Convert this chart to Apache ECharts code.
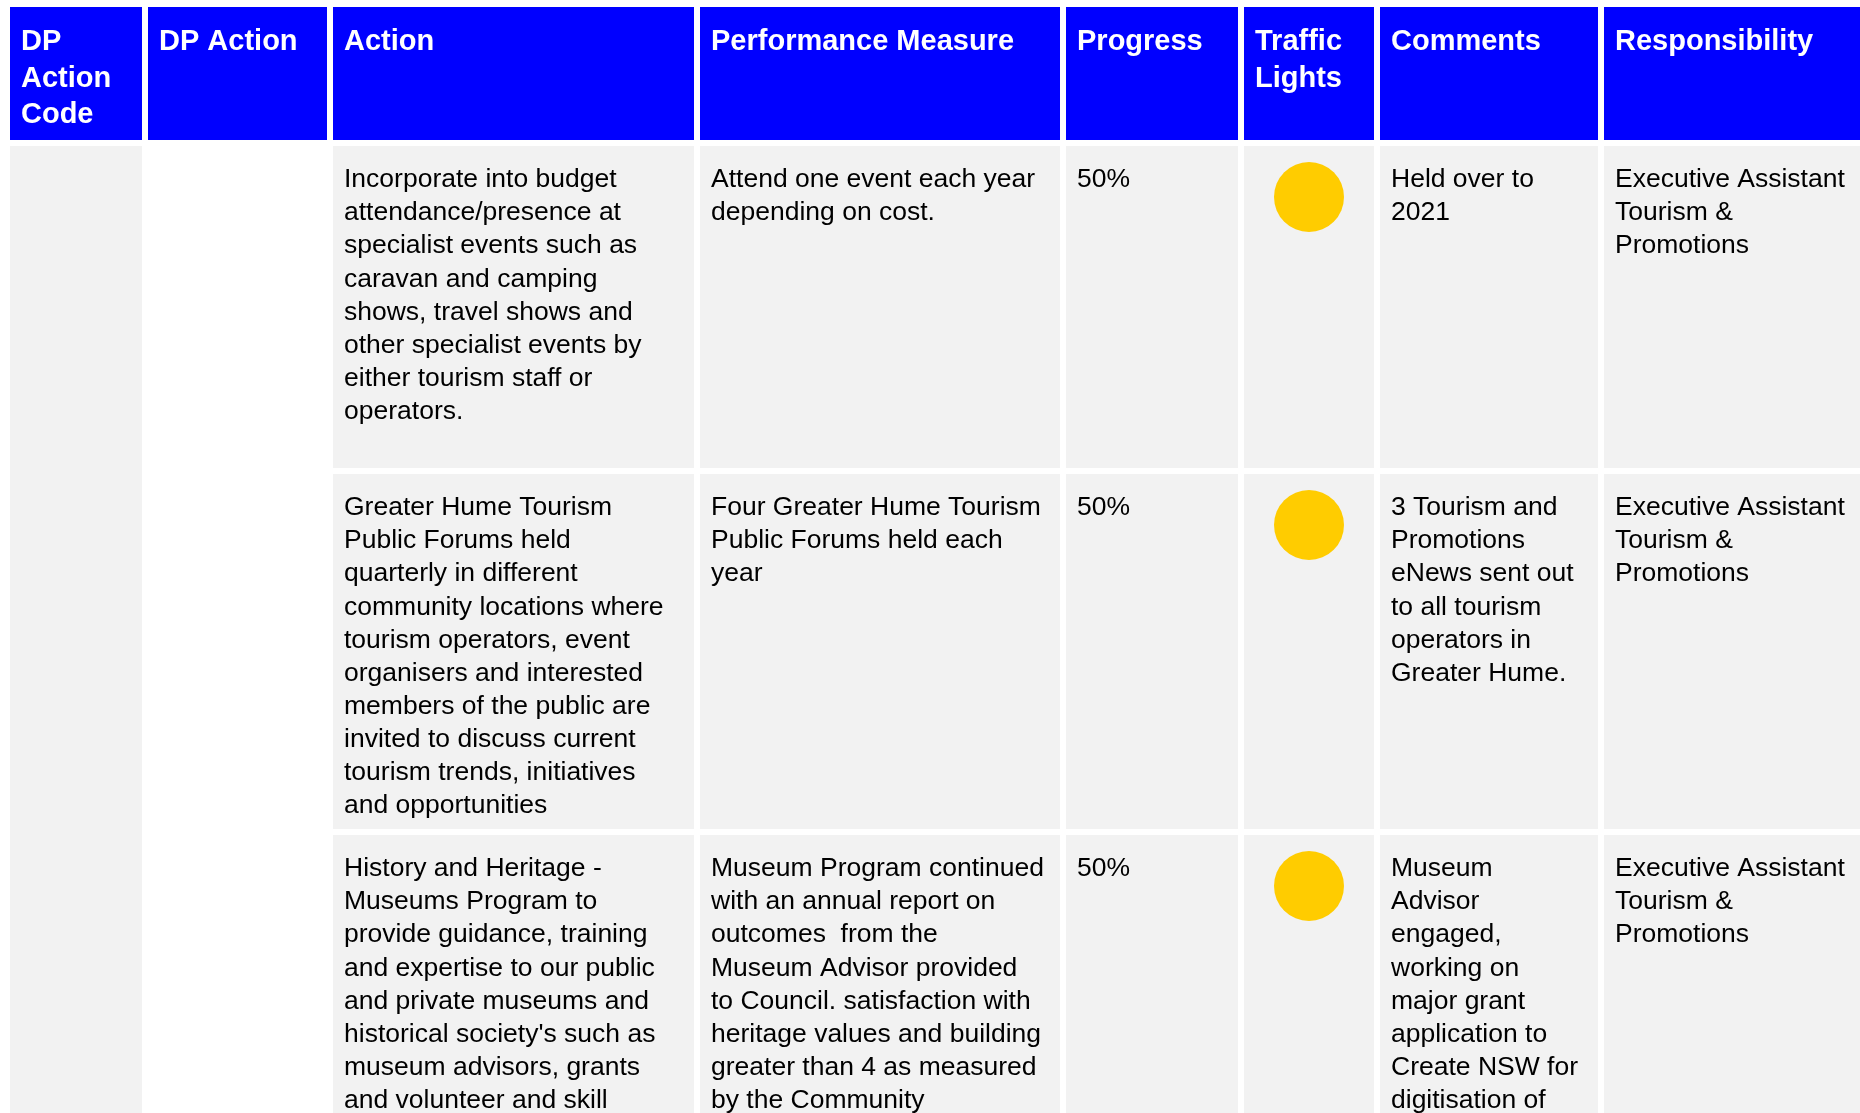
<!DOCTYPE html>
<html><head><meta charset="utf-8">
<script src="https://cdn.jsdelivr.net/npm/echarts@6/dist/echarts.min.js"></script>
<style>html,body{margin:0;padding:0;background:#fff}#c{width:1860px;height:1113px}</style>
</head><body><div id="c"></div>
<script>
// ---------- data ----------
const headers = ['DP\nAction\nCode', 'DP Action', 'Action', 'Performance Measure', 'Progress', 'Traffic\nLights', 'Comments', 'Responsibility'];
const actions = [
  'Incorporate into budget\nattendance/presence at\nspecialist events such as\ncaravan and camping\nshows, travel shows and\nother specialist events by\neither tourism staff or\noperators.',
  'Greater Hume Tourism\nPublic Forums held\nquarterly in different\ncommunity locations where\ntourism operators, event\norganisers and interested\nmembers of the public are\ninvited to discuss current\ntourism trends, initiatives\nand opportunities',
  "History and Heritage -\nMuseums Program to\nprovide guidance, training\nand expertise to our public\nand private museums and\nhistorical society's such as\nmuseum advisors, grants\nand volunteer and skill"
];
const measures = [
  'Attend one event each year\ndepending on cost.',
  'Four Greater Hume Tourism\nPublic Forums held each\nyear',
  'Museum Program continued\nwith an annual report on\noutcomes  from the\nMuseum Advisor provided\nto Council. satisfaction with\nheritage values and building\ngreater than 4 as measured\nby the Community'
];
const progress = ['50%', '50%', '50%'];
const lights = ['amber', 'amber', 'amber'];
const comments = [
  'Held over to\n2021',
  '3 Tourism and\nPromotions\neNews sent out\nto all tourism\noperators in\nGreater Hume.',
  'Museum\nAdvisor\nengaged,\nworking on\nmajor grant\napplication to\nCreate NSW for\ndigitisation of'
];
const responsibility = [
  'Executive Assistant\nTourism &\nPromotions',
  'Executive Assistant\nTourism &\nPromotions',
  'Executive Assistant\nTourism &\nPromotions'
];

// ---------- layout / style ----------
const COL = [[10,142],[148,327],[333,694],[700,1060],[1066,1238],[1244,1374],[1380,1598],[1604,1870]];
const HEAD = [7,140];
const ROWS = [[146,468],[474,829],[835,1180]];
const BLUE = '#0000ff', GRAY = '#f2f2f2', AMBER = '#ffcc00';
const LIGHT_COLORS = { amber: AMBER, green: '#00b050', red: '#ff0000' };
const FONT = '"Liberation Sans", Arial, Helvetica, sans-serif';
const PADX = 11;

const bodyCols = [null, null, actions, measures, progress, lights, comments, responsibility];

function rectOf(api, x0, y0, x1, y1) {
  const p0 = api.coord([x0, y0]), p1 = api.coord([x1, y1]);
  return { x: p0[0], y: p0[1], width: p1[0] - p0[0], height: p1[1] - p0[1] };
}

const headerData = headers.map((h, i) => [i, -1]);
const bodyData = [];
for (let r = 0; r < actions.length; r++) {
  for (let c = 2; c < bodyCols.length; c++) bodyData.push([c, r]);
}

const chart = echarts.init(document.getElementById('c'), null, { renderer: 'canvas' });
chart.setOption({
  animation: false,
  backgroundColor: '#ffffff',
  grid: { left: 0, right: 0, top: 0, bottom: 0 },
  xAxis: { type: 'value', min: 0, max: 1860, show: false },
  yAxis: { type: 'value', min: 0, max: 1113, inverse: true, show: false },
  series: [
    {
      type: 'custom', name: 'header', data: headerData,
      renderItem: function (params, api) {
        const c = api.value(0);
        const r = rectOf(api, COL[c][0], HEAD[0], COL[c][1], HEAD[1]);
        const t = api.coord([COL[c][0] + PADX, HEAD[0] + 17.2]);
        return { type: 'group', children: [
          { type: 'rect', shape: r, style: { fill: BLUE } },
          { type: 'text', x: t[0], y: t[1], style: {
            text: headers[c], fill: '#ffffff', fontFamily: FONT, fontWeight: 'bold',
            fontSize: 29, lineHeight: 36.5, align: 'left', verticalAlign: 'top' } }
        ] };
      }
    },
    {
      type: 'custom', name: 'codeColumn', data: [[0, 0]],
      renderItem: function (params, api) {
        const r = rectOf(api, COL[0][0], ROWS[0][0], COL[0][1], ROWS[ROWS.length - 1][1]);
        return { type: 'rect', shape: r, style: { fill: GRAY } };
      }
    },
    {
      type: 'custom', name: 'body', data: bodyData,
      renderItem: function (params, api) {
        const c = api.value(0), row = api.value(1);
        const r = rectOf(api, COL[c][0], ROWS[row][0], COL[c][1], ROWS[row][1]);
        const children = [{ type: 'rect', shape: r, style: { fill: GRAY } }];
        const val = bodyCols[c][row];
        if (bodyCols[c] === lights) {
          const ctr = api.coord([(COL[c][0] + COL[c][1]) / 2, ROWS[row][0] + 51]);
          children.push({ type: 'circle', shape: { cx: ctr[0], cy: ctr[1], r: 35 },
            style: { fill: LIGHT_COLORS[val] } });
        } else {
          const t = api.coord([COL[c][0] + PADX, ROWS[row][0] + 17.4]);
          children.push({ type: 'text', x: t[0], y: t[1], style: {
            text: val, fill: '#000000', fontFamily: FONT, fontSize: 26.5, lineHeight: 33.1,
            align: 'left', verticalAlign: 'top' } });
        }
        return { type: 'group', children: children };
      }
    }
  ]
});
</script></body></html>
